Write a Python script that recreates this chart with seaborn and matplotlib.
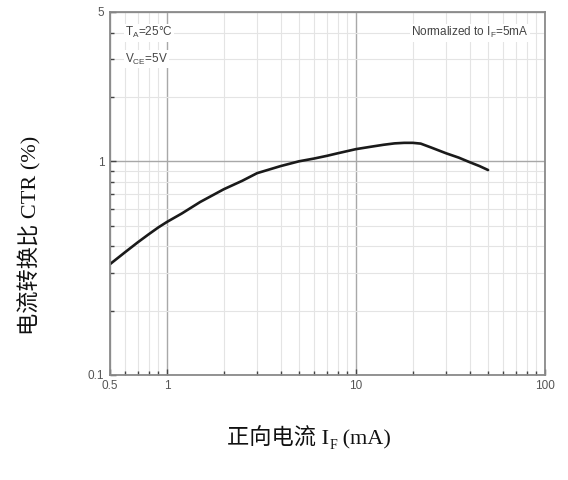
import numpy as np
import pandas as pd
import matplotlib
matplotlib.use("Agg")
import matplotlib.pyplot as plt
from matplotlib.ticker import LogLocator, FixedLocator, NullFormatter
import seaborn as sns

forward_current = [0.5, 0.6, 0.7, 0.8, 0.9, 1, 1.2, 1.5, 2, 2.5, 3, 4, 5, 6, 7, 8,
                   10, 12, 14, 16, 18, 20, 22, 25, 30, 35, 40, 45, 50]
ctr_norm = [0.33, 0.375, 0.417, 0.455, 0.49, 0.52, 0.57, 0.645, 0.74, 0.81, 0.88,
            0.95, 1.0, 1.03, 1.06, 1.09, 1.14, 1.17, 1.195, 1.213, 1.22, 1.22,
            1.21, 1.16, 1.09, 1.04, 0.99, 0.95, 0.91]

x_ticks = [0.5, 1, 10, 100]
x_ticklabels = ["0.5", "1", "10", "100"]
y_ticks = [0.1, 1, 5]
y_ticklabels = ["0.1", "1", "5"]

sns.set_theme(style="white")
plt.rcParams["font.family"] = ["Liberation Sans", "DejaVu Sans"]
plt.rcParams["mathtext.fontset"] = "custom"
plt.rcParams["mathtext.rm"] = "Liberation Sans"
plt.rcParams["axes.unicode_minus"] = False

df = pd.DataFrame({"IF": forward_current, "CTR": ctr_norm})

fig = plt.figure(figsize=(5.68, 4.8), dpi=100)
ax = fig.add_axes([0.1937, 0.219, 0.7658, 0.756])

ax.set_xscale("log")
ax.set_yscale("log")
ax.set_xlim(0.5, 100)
ax.set_ylim(0.1, 5)

# grid
minor = LogLocator(base=10, subs=np.arange(2, 10))
ax.xaxis.set_minor_locator(minor)
ax.yaxis.set_minor_locator(minor)
ax.xaxis.set_major_locator(FixedLocator(x_ticks))
ax.yaxis.set_major_locator(FixedLocator(y_ticks))
ax.set_xticklabels(x_ticklabels)
ax.set_yticklabels(y_ticklabels)
ax.xaxis.set_minor_formatter(NullFormatter())
ax.yaxis.set_minor_formatter(NullFormatter())

ax.grid(True, which="minor", color="#e4e4e4", linewidth=0.8)
ax.grid(True, which="major", color="#a8a8a8", linewidth=1.0)
ax.set_axisbelow(True)

sns.lineplot(data=df, x="IF", y="CTR", color="#1a1a1a", linewidth=1.9, ax=ax)

ax.tick_params(which="both", direction="in", left=True, bottom=True, top=False,
               right=False, color="#444444")
ax.tick_params(which="major", length=4, width=1.0, labelsize=8.5,
               labelcolor="#555555", pad=4)
ax.tick_params(which="minor", length=3, width=1.0)

for s in ax.spines.values():
    s.set_color("#8a8a8a")
    s.set_linewidth(1.3)

ax.set_xlabel("")
ax.set_ylabel("")

box = dict(facecolor="white", edgecolor="none", pad=1)
ax.text(0.6, 4.0, "T$_\\mathrm{A}$=25°C", fontsize=8.5, color="#444444",
        ha="left", va="center", bbox=box)
ax.text(0.6, 3.0, "V$_\\mathrm{CE}$=5V", fontsize=8.5, color="#444444",
        ha="left", va="center", bbox=box)
ax.text(82, 4.0, "Normalized to I$_\\mathrm{F}$=5mA", fontsize=8.5, color="#444444",
        ha="right", va="center", bbox=box)

cjk = ["Liberation Serif", "Noto Sans CJK SC"]
fig.text(0.053, 0.51, "电流转换比 CTR (%)", rotation=90, fontsize=16,
         family=cjk, ha="center", va="center", color="#111111")

# x label with subscript F, pieced together on one baseline
base_y = 0.073
t1 = fig.text(0.40, base_y, "正向电流 I", fontsize=16, family=cjk,
              ha="left", va="baseline", color="#111111")
fig.canvas.draw()
W = fig.bbox.width
x1 = t1.get_window_extent().x1 / W
t2 = fig.text(x1, base_y - 0.008, "F", fontsize=10, family=cjk,
              ha="left", va="baseline", color="#111111")
fig.canvas.draw()
x2 = t2.get_window_extent().x1 / W
fig.text(x2, base_y, " (mA)", fontsize=16, family=cjk,
         ha="left", va="baseline", color="#111111")

fig.savefig("out.png", dpi=100)
